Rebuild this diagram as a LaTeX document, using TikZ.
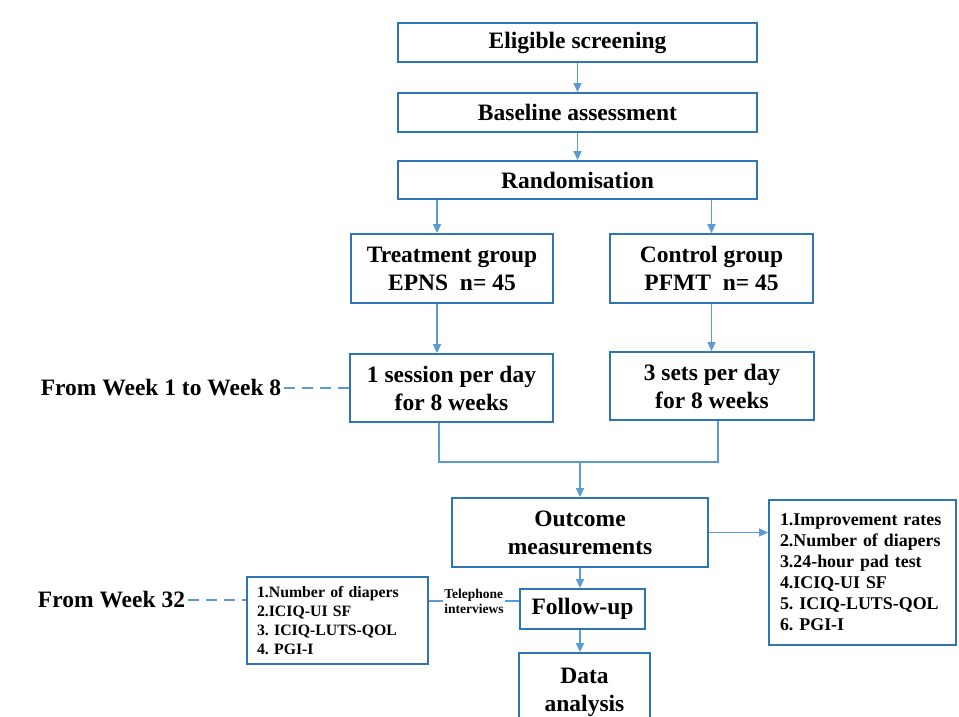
\documentclass[tikz,border=0pt]{standalone}
\usepackage{fontspec}
\setmainfont{Liberation Serif}
\usetikzlibrary{arrows.meta,positioning,calc}
\definecolor{boxblue}{HTML}{2E75B6}
\definecolor{lineblue}{HTML}{5B9BD5}
\frenchspacing

\begin{document}
\begin{tikzpicture}[x=1pt, y=-1pt,
    box/.style={draw=boxblue, line width=1.8pt, align=center, inner sep=0pt,
                font=\fontsize{23.5}{28}\selectfont\bfseries},
    listbox/.style={draw=boxblue, line width=1.8pt, align=left, inner ysep=0pt},
    arrow/.style={-{Triangle[length=9pt,width=8pt]}, draw=lineblue, fill=lineblue, line width=1.5pt},
    link/.style={draw=lineblue, line width=1.5pt},
    dashlink/.style={link, dash pattern=on 11pt off 7pt},
    lbl/.style={font=\fontsize{23.5}{28}\selectfont\bfseries, inner sep=3pt}
]
\useasboundingbox (0,0) rectangle (959,716);
\clip (0,0) rectangle (959,716);

% Nodes
\node[box, minimum width=359pt, minimum height=39pt] (elig) at (577.5,42.5) {Eligible screening};
\node[box, minimum width=359pt, minimum height=39pt] (base) at (577.5,112.5) {Baseline assessment};
\node[box, minimum width=359pt, minimum height=38pt] (rand) at (577.5,180) {Randomisation};
\node[box, minimum width=202pt, minimum height=69pt] (treat) at (452,268.5) {Treatment group\\EPNS~~n= 45};
\node[box, minimum width=203pt, minimum height=69pt] (ctrl) at (711.5,268.5) {Control group\\PFMT~~n= 45};
\node[box, minimum width=203pt, minimum height=68pt] (sess) at (451.5,388) {1 session per day\\for 8 weeks};
\node[box, minimum width=204pt, minimum height=68pt] (sets) at (712,386) {3 sets per day\\for 8 weeks};
\node[box, minimum width=256pt, minimum height=69pt] (outc) at (580,532.5) {Outcome\\measurements};
\node[box, minimum width=125pt, minimum height=40pt] (fup) at (582.5,609) {Follow-up};
\node[box, minimum width=131pt, minimum height=78pt] (data) at (584.5,692) {Data\\analysis};
\node[listbox, text width=165pt, inner xsep=11pt, minimum height=145pt,
      font=\fontsize{17.9}{21}\selectfont\bfseries] (rlist) at (862.5,572.5)
      {1.Improvement rates\\2.Number of diapers\\3.24-hour pad test\\4.ICIQ-UI SF\\5. ICIQ-LUTS-QOL\\6. PGI-I};
\node[listbox, text width=161pt, inner xsep=10pt, minimum height=87pt,
      font=\fontsize{15.8}{19}\selectfont\bfseries] (llist) at (337.5,620.5)
      {1.Number of diapers\\2.ICIQ-UI SF\\3. ICIQ-LUTS-QOL\\4. PGI-I};

% Labels
\node[lbl] (wk8) at (161,388) {From Week 1 to Week 8};
\node[lbl] (wk32) at (111.5,600) {From Week 32};
\node[font=\fontsize{13.5}{15}\selectfont\bfseries, align=left, inner sep=1.5pt] (tel) at (474,601) {Telephone\\interviews};

% Arrows
\coordinate (a1) at (437,234);
\coordinate (a2) at (439,462);
\coordinate (a3) at (718,462);
\draw[arrow] (elig) -- (base);
\draw[arrow] (base) -- (rand);
\draw[arrow] (rand.south -| a1) -- (treat.north -| a1);
\draw[arrow] (rand.south -| ctrl.north) -- (ctrl.north);
\draw[arrow] (treat.south -| a1) -- (sess.north -| a1);
\draw[arrow] (ctrl.south) -- (ctrl.south |- sets.north);
\draw[link] (a2 |- sess.south) -- (a2) -- (a3) -- (a3 |- sets.south);
\draw[arrow] (outc.north |- a2) -- (outc.north);
\draw[arrow] (outc.east) -- (outc.east -| rlist.west);
\draw[arrow] (outc.south) -- (outc.south |- fup.north);
\draw[arrow] (fup.south -| outc.south) -- (data.north -| outc.south);
\draw[link] (tel.west -| llist.east) -- (tel.west);
\draw[link] (tel.east) -- (tel.east -| fup.west);
\draw[dashlink] (wk8.east) -- (sess.west |- wk8.east);
\draw[dashlink] (wk32.east) -- (wk32.east -| llist.west);

\end{tikzpicture}
\end{document}
